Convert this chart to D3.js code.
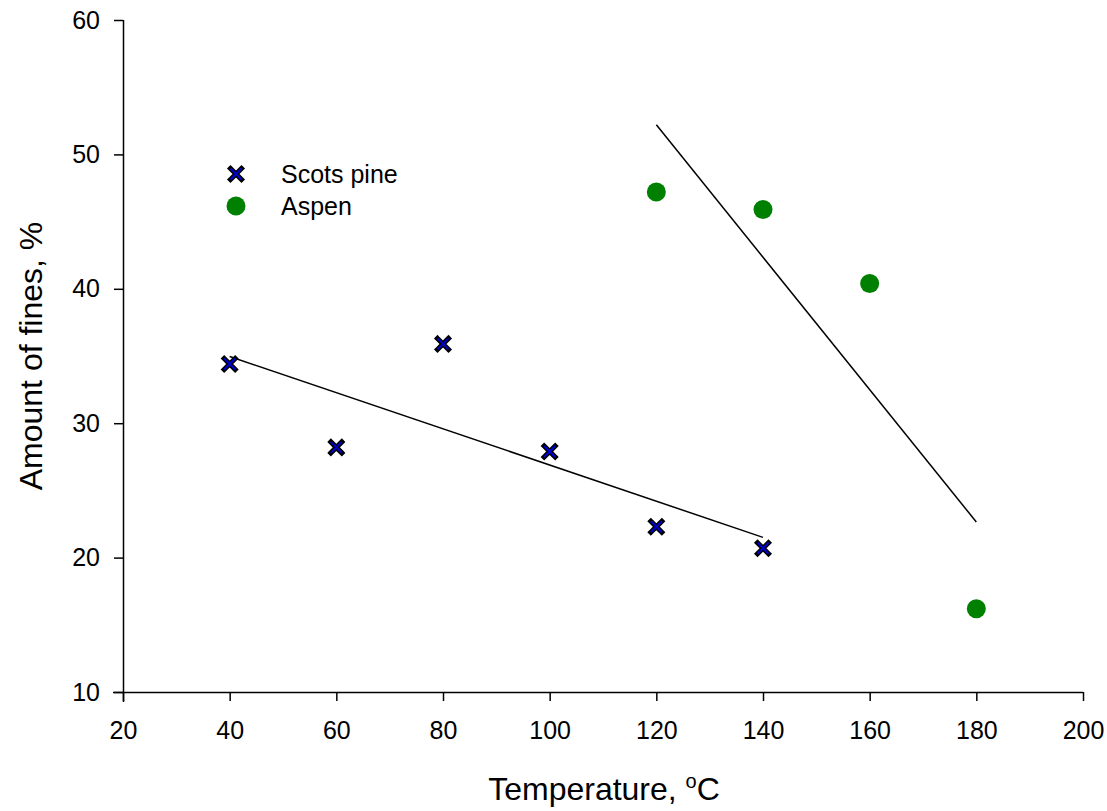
<!DOCTYPE html>
<html>
<head>
<meta charset="utf-8">
<script src="https://cdn.jsdelivr.net/npm/d3@7"></script>
<style>
  body { margin: 0; background: #fff; }
  text { font-family: "Liberation Sans", Arial, sans-serif; }
</style>
</head>
<body>
<svg id="chart" width="1107" height="811"></svg>
<script>
const pineTemp = [40, 60, 80, 100, 120, 140];
const pineFines = [34.4, 28.2, 35.9, 27.9, 22.3, 20.7];
const aspenTemp = [120, 140, 160, 180];
const aspenFines = [47.2, 45.9, 40.4, 16.2];
const xTicks = [20, 40, 60, 80, 100, 120, 140, 160, 180, 200];
const yTicks = [10, 20, 30, 40, 50, 60];

const svg = d3.select('#chart');
const x = d3.scaleLinear().domain([20, 200]).range([123, 1083]);
const y = d3.scaleLinear().domain([10, 60]).range([692, 20]);

// least squares fit
function fit(xs, ys) {
  const mx = d3.mean(xs), my = d3.mean(ys);
  const b = d3.sum(xs, (v, i) => (v - mx) * (ys[i] - my)) / d3.sum(xs, v => (v - mx) ** 2);
  const a = my - b * mx;
  const x0 = d3.min(xs), x1 = d3.max(xs);
  return [[x0, a + b * x0], [x1, a + b * x1]];
}

const gx = svg.append('g')
  .attr('transform', 'translate(0,692)')
  .call(d3.axisBottom(x).tickValues(xTicks).tickSize(9).tickPadding(20));
const gy = svg.append('g')
  .attr('transform', 'translate(123,0)')
  .call(d3.axisLeft(y).tickValues(yTicks).tickSize(9).tickPadding(14));
[gx, gy].forEach(g => {
  g.selectAll('path, line').attr('stroke', '#000').attr('stroke-width', 1.5);
  g.selectAll('text').style('font-size', '25px').attr('fill', '#000')
    .style('font-family', '"Liberation Sans", Arial, sans-serif');
});
gx.select('.domain').attr('d', 'M113,0.5H1083');
gy.select('.domain').attr('d', 'M0.5,20V702');

const line = d3.line().x(d => x(d[0])).y(d => y(d[1]));
svg.append('path').attr('d', line(fit(pineTemp, pineFines)))
  .attr('stroke', '#000').attr('stroke-width', 1.5).attr('fill', 'none');
svg.append('path').attr('d', line(fit(aspenTemp, aspenFines)))
  .attr('stroke', '#000').attr('stroke-width', 1.5).attr('fill', 'none');

const cross = (g, cx, cy) => {
  const s = 5.5;
  const p = `M${cx - s},${cy - s}L${cx + s},${cy + s}M${cx - s},${cy + s}L${cx + s},${cy - s}`;
  g.append('path').attr('d', p).attr('stroke', '#000').attr('stroke-width', 5).attr('stroke-linecap', 'square');
  g.append('path').attr('d', p).attr('stroke', '#0000cc').attr('stroke-width', 2);
};

const marks = svg.append('g');
pineTemp.forEach((t, i) => cross(marks, x(t), y(pineFines[i])));
marks.selectAll('circle.aspen')
  .data(aspenTemp.map((t, i) => [t, aspenFines[i]]))
  .enter().append('circle')
  .attr('class', 'aspen')
  .attr('cx', d => x(d[0])).attr('cy', d => y(d[1]))
  .attr('r', 9.5).attr('fill', '#008000');

// legend
const leg = svg.append('g');
cross(leg, 236, 174);
leg.append('circle').attr('cx', 236).attr('cy', 206).attr('r', 9.5).attr('fill', '#008000');
leg.append('text').attr('x', 281).attr('y', 183).style('font-size', '25px').text('Scots pine');
leg.append('text').attr('x', 281).attr('y', 215).style('font-size', '25px').text('Aspen');

// axis titles
const xt = svg.append('text').attr('x', 604).attr('y', 800).attr('text-anchor', 'middle')
  .style('font-size', '32px');
xt.append('tspan').text('Temperature, ');
xt.append('tspan').attr('dy', -12).style('font-size', '20px').text('o');
xt.append('tspan').attr('dy', 12).text('C');

svg.append('text').attr('transform', 'translate(42,356) rotate(-90)')
  .attr('text-anchor', 'middle').style('font-size', '32px').text('Amount of fines, %');
</script>
</body>
</html>
